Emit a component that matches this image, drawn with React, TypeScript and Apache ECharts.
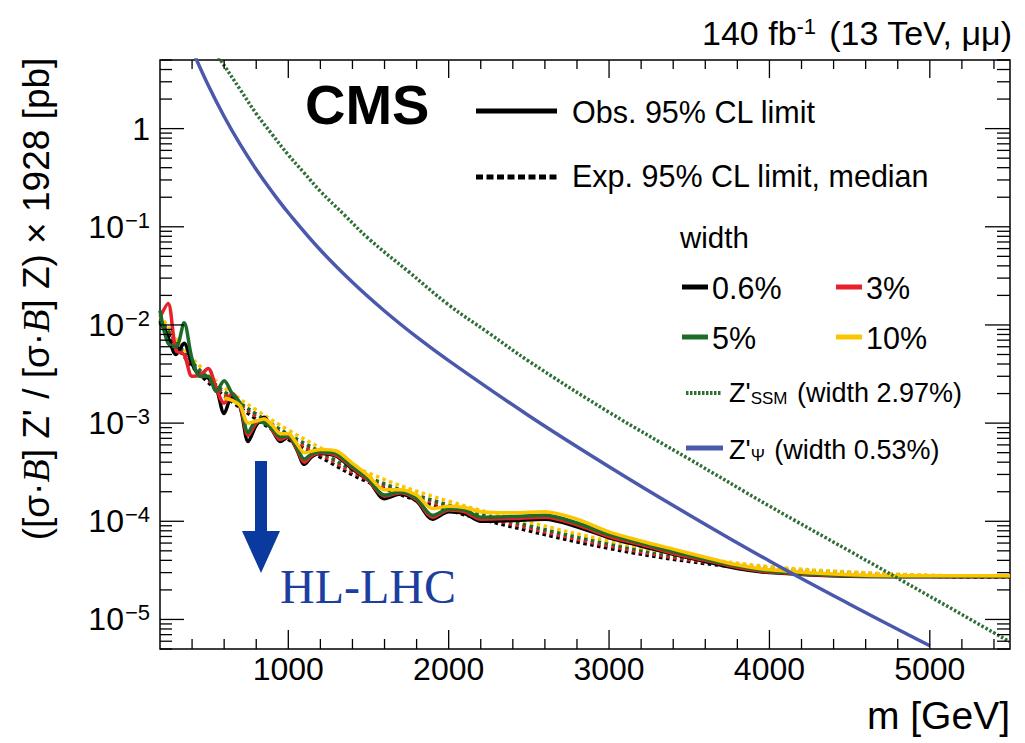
import React, { useEffect, useRef } from "react";
import * as echarts from "echarts";

const X_MIN = 200;
const X_MAX = 5500;
const Y_MIN = 5e-6;
const Y_MAX = 5;

const xMajorTicks = [1000, 2000, 3000, 4000, 5000];

const obsMass = [200, 250, 300, 350, 400, 450, 500, 550, 600, 650, 700, 750, 800, 850, 900, 950, 1000, 1050, 1100, 1150, 1200,
  1300, 1400, 1500, 1600, 1700, 1800, 1900, 2000, 2100, 2200,
  2400, 2600, 2800, 3000, 3200, 3400, 3600, 3800, 4000,
  4500, 5000, 5500];

const obsW06 = [1.1e-2, 7.5e-3, 5.0e-3, 6.5e-3, 4.0e-3, 3.0e-3, 2.9e-3, 2.3e-3, 1.25e-3, 1.9e-3, 1.45e-3, 6.5e-4, 9.5e-4, 1.15e-3, 8.5e-4, 6.5e-4, 7.2e-4, 5.5e-4, 3.8e-4, 4.6e-4, 4.9e-4,
  4.6e-4, 3.4e-4, 2.6e-4, 1.7e-4, 1.9e-4, 1.6e-4, 1.05e-4, 1.25e-4, 1.2e-4, 1.0e-4,
  1.02e-4, 1.05e-4, 8.8e-5, 6.8e-5, 5.6e-5, 4.6e-5, 3.9e-5, 3.3e-5, 3.0e-5,
  2.75e-5, 2.72e-5, 2.72e-5];

const obsW3 = [1.2e-2, 1.65e-2, 5.5e-3, 5.0e-3, 3.0e-3, 3.1e-3, 3.6e-3, 2.3e-3, 1.6e-3, 2.0e-3, 1.5e-3, 7.5e-4, 1.0e-3, 1.1e-3, 8.5e-4, 6.8e-4, 7.3e-4, 5.6e-4, 4.0e-4, 4.7e-4, 5.0e-4,
  4.7e-4, 3.5e-4, 2.6e-4, 1.8e-4, 1.95e-4, 1.65e-4, 1.1e-4, 1.3e-4, 1.25e-4, 1.05e-4,
  1.07e-4, 1.1e-4, 9.2e-5, 7.0e-5, 5.8e-5, 4.7e-5, 4.0e-5, 3.4e-5, 3.05e-5,
  2.78e-5, 2.74e-5, 2.74e-5];

const obsW5 = [1.4e-2, 6.5e-3, 6.0e-3, 1.05e-2, 4.5e-3, 3.0e-3, 3.0e-3, 2.1e-3, 2.7e-3, 2.0e-3, 1.6e-3, 8.0e-4, 1.05e-3, 1.0e-3, 8.8e-4, 7.2e-4, 7.5e-4, 5.8e-4, 4.3e-4, 4.9e-4, 5.1e-4,
  4.9e-4, 3.6e-4, 2.7e-4, 1.85e-4, 2.0e-4, 1.7e-4, 1.15e-4, 1.33e-4, 1.3e-4, 1.1e-4,
  1.12e-4, 1.15e-4, 9.6e-5, 7.3e-5, 6.0e-5, 4.9e-5, 4.1e-5, 3.5e-5, 3.1e-5,
  2.8e-5, 2.75e-5, 2.75e-5];

const obsW10 = [null, null, null, null, null, null, null, null, 1.8e-3, 1.7e-3, 1.5e-3, 1.0e-3, 1.05e-3, 1.1e-3, 9.5e-4, 7.8e-4, 7.8e-4, 6.3e-4, 5.0e-4, 5.2e-4, 5.4e-4,
  5.2e-4, 3.9e-4, 2.9e-4, 2.1e-4, 2.1e-4, 1.85e-4, 1.35e-4, 1.42e-4, 1.38e-4, 1.25e-4,
  1.22e-4, 1.25e-4, 1.05e-4, 7.8e-5, 6.3e-5, 5.2e-5, 4.3e-5, 3.6e-5, 3.2e-5,
  2.85e-5, 2.78e-5, 2.78e-5];

const expMass = [200, 300, 400, 500, 600, 800, 1000, 1200, 1500, 2000, 2500, 3000, 3500, 4000, 4500, 5000, 5500];
const expW06 = [1.05e-2, 6.2e-3, 3.8e-3, 2.6e-3, 1.9e-3, 1.1e-3, 6.8e-4, 4.5e-4, 2.5e-4, 1.3e-4, 8.0e-5, 5.3e-5, 3.9e-5, 3.2e-5, 2.9e-5, 2.75e-5, 2.7e-5];
const expW3 = [1.1e-2, 6.5e-3, 4.0e-3, 2.75e-3, 2.0e-3, 1.17e-3, 7.2e-4, 4.8e-4, 2.65e-4, 1.38e-4, 8.5e-5, 5.6e-5, 4.05e-5, 3.3e-5, 2.95e-5, 2.77e-5, 2.72e-5];
const expW5 = [1.15e-2, 6.8e-3, 4.2e-3, 2.9e-3, 2.1e-3, 1.24e-3, 7.7e-4, 5.1e-4, 2.8e-4, 1.46e-4, 9.0e-5, 5.9e-5, 4.2e-5, 3.35e-5, 3.0e-5, 2.79e-5, 2.74e-5];
const expW10 = [1.25e-2, 7.4e-3, 4.6e-3, 3.2e-3, 2.3e-3, 1.36e-3, 8.5e-4, 5.6e-4, 3.1e-4, 1.6e-4, 9.8e-5, 6.3e-5, 4.4e-5, 3.45e-5, 3.05e-5, 2.82e-5, 2.76e-5];

const ssmMass = [500, 600, 700, 800, 900, 1000, 1100, 1200, 1350, 1500, 1750, 2000, 2250, 2500, 3000, 3500, 4000, 4500, 5000, 5500];
const ssmXsec = [7.66, 4.4, 2.5, 1.42, 0.87, 0.54, 0.352, 0.23, 0.132, 0.0759, 0.0349, 0.016, 8.27e-3, 4.27e-3, 1.29e-3, 4.3e-4, 1.43e-4, 4.97e-5, 1.72e-5, 5.9e-6];

const psiMass = [400, 500, 600, 700, 800, 900, 1000, 1200, 1400, 1600, 1800, 2000, 2500, 3000, 3500, 4000, 4500, 5000];
const psiXsec = [6.37, 2.78, 1.33, 0.69, 0.384, 0.226, 0.139, 0.058, 0.0272, 0.01387, 7.55e-3, 4.33e-3, 1.19e-3, 3.6e-4, 1.16e-4, 3.94e-5, 1.43e-5, 5.4e-6];

const C_BLACK = "#000000";
const C_RED = "#e8202a";
const C_GREEN = "#1d6b2a";
const C_YELLOW = "#fcc500";
const C_SSM = "#2f6f36";
const C_PSI = "#4a59ab";
const C_HL = "#0b3a9e";

const FONT = "'Liberation Sans', Arial, Helvetica, sans-serif";

function toPairs(xs: number[], ys: (number | null)[]) {
  return xs.map((x, i) => [x, ys[i] == null ? "-" : ys[i]]);
}

function lineSeries(name: string, xs: number[], ys: (number | null)[], color: string, width: number, type: any, smooth: number, z: number) {
  return {
    type: "line",
    name,
    data: toPairs(xs, ys),
    showSymbol: false,
    symbol: "none",
    smooth,
    connectNulls: false,
    silent: true,
    z,
    lineStyle: { color, width, type, cap: "butt", join: "round" },
  };
}

export default function App() {
  const ref = useRef<HTMLDivElement>(null);

  useEffect(() => {
    if (!ref.current) return;
    const chart = echarts.init(ref.current, undefined, { renderer: "svg" });

    const xMinorTicks: number[] = [];
    for (let m = 400; m < X_MAX; m += 200) if (m % 1000 !== 0) xMinorTicks.push(m);
    const yMajor: number[] = [];
    const yMinor: number[] = [];
    for (let e = -6; e <= 0; e++) {
      for (let k = 1; k <= 9; k++) {
        const v = k * Math.pow(10, e);
        if (v < Y_MIN * 0.999 || v > Y_MAX * 1.001) continue;
        if (k === 1) yMajor.push(v);
        else yMinor.push(v);
      }
    }
    const xTickData = [...xMajorTicks.map((m) => [m, Y_MIN, 1]), ...xMinorTicks.map((m) => [m, Y_MIN, 0])];
    const yTickData = [...yMajor.map((v) => [X_MIN, v, 1]), ...yMinor.map((v) => [X_MIN, v, 0])];

    const tickStyle = { stroke: "#000", lineWidth: 1.3 };

    const option: any = {
      animation: false,
      backgroundColor: "#ffffff",
      grid: {
        left: 160,
        top: 60,
        width: 850,
        height: 589,
        show: true,
        borderColor: "#000",
        borderWidth: 1.5,
        backgroundColor: "transparent",
      },
      xAxis: {
        type: "value",
        min: X_MIN,
        max: X_MAX,
        splitNumber: 5,
        axisLine: { show: false },
        axisTick: { show: false },
        splitLine: { show: false },
        axisLabel: {
          formatter: (v: number) => (xMajorTicks.indexOf(v) >= 0 ? String(v) : ""),
          fontSize: 32,
          fontFamily: FONT,
          color: "#000",
          margin: 4,
          showMinLabel: true,
          showMaxLabel: true,
        },
      },
      yAxis: {
        type: "log",
        logBase: 10,
        min: Y_MIN,
        max: Y_MAX,
        axisLine: { show: false },
        axisTick: { show: false },
        splitLine: { show: false },
        axisLabel: {
          formatter: (v: number) => {
            const e = Math.log10(v);
            const r = Math.round(e);
            if (Math.abs(e - r) > 1e-6) return "";
            if (r === 0) return "1";
            return "10{sup|\u2212" + -r + "}";
          },
          fontSize: 32,
          fontFamily: FONT,
          color: "#000",
          margin: 10,
          rich: {
            sup: { fontSize: 22, fontFamily: FONT, color: "#000", verticalAlign: "top", padding: [0, 0, 13, 1] },
          },
        },
      },
      series: [
        lineSeries("exp06", expMass, expW06, C_BLACK, 3.5, [3.5, 3.5], 0.4, 2),
        lineSeries("exp3", expMass, expW3, C_RED, 3.5, [3.5, 3.5], 0.4, 2),
        lineSeries("exp5", expMass, expW5, C_GREEN, 3.5, [3.5, 3.5], 0.4, 2),
        lineSeries("exp10", expMass, expW10, C_YELLOW, 3.5, [3.5, 3.5], 0.4, 2),
        lineSeries("obs06", obsMass, obsW06, C_BLACK, 3.5, "solid", 0.3, 3),
        lineSeries("obs3", obsMass, obsW3, C_RED, 3.5, "solid", 0.3, 3),
        lineSeries("obs5", obsMass, obsW5, C_GREEN, 3.5, "solid", 0.3, 3),
        lineSeries("obs10", obsMass, obsW10, C_YELLOW, 3.5, "solid", 0.3, 3),
        lineSeries("ssm", ssmMass, ssmXsec, C_SSM, 3.5, [2.5, 2], 0.4, 4),
        lineSeries("psi", psiMass, psiXsec, C_PSI, 3.5, "solid", 0.4, 4),
        {
          type: "custom",
          name: "xticks",
          silent: true,
          clip: false,
          z: 10,
          data: xTickData,
          encode: { x: 0, y: 1 },
          renderItem: (_p: any, api: any) => {
            const m = api.value(0);
            const major = api.value(2) === 1;
            const b = api.coord([m, Y_MIN]);
            const t = api.coord([m, Y_MAX]);
            const lb = major ? 19 : 10;
            const lt = major ? 18 : 9;
            return {
              type: "group",
              children: [
                { type: "line", shape: { x1: b[0], y1: b[1], x2: b[0], y2: b[1] - lb }, style: tickStyle },
                { type: "line", shape: { x1: t[0], y1: t[1], x2: t[0], y2: t[1] + lt }, style: tickStyle },
              ],
            };
          },
        },
        {
          type: "custom",
          name: "yticks",
          silent: true,
          clip: false,
          z: 10,
          data: yTickData,
          encode: { x: 0, y: 1 },
          renderItem: (_p: any, api: any) => {
            const v = api.value(1);
            const major = api.value(2) === 1;
            const l = api.coord([X_MIN, v]);
            const r = api.coord([X_MAX, v]);
            const ll = major ? 24 : 12;
            const lr = major ? 25 : 13;
            return {
              type: "group",
              children: [
                { type: "line", shape: { x1: l[0], y1: l[1], x2: l[0] + ll, y2: l[1] }, style: tickStyle },
                { type: "line", shape: { x1: r[0], y1: r[1], x2: r[0] - lr, y2: r[1] }, style: tickStyle },
              ],
            };
          },
        },
      ],
      graphic: [
        {
          type: "text",
          x: 1012,
          y: 33,
          style: {
            text: "140 fb{sup|-1} (13 TeV, \u03bc\u03bc)",
            align: "right",
            verticalAlign: "middle",
            fontSize: 34,
            fontFamily: FONT,
            fill: "#000",
            rich: { sup: { fontSize: 22, fontFamily: FONT, fill: "#000", verticalAlign: "top", padding: [0, 3, 14, 0] } },
          },
        },
        {
          type: "text",
          x: 305,
          y: 104,
          style: { text: "CMS", align: "left", verticalAlign: "middle", fontSize: 56, fontWeight: "bold", fontFamily: FONT, fill: "#000" },
        },
        { type: "line", shape: { x1: 476, y1: 111, x2: 557, y2: 111 }, style: { stroke: "#000", lineWidth: 5 } },
        {
          type: "text",
          x: 572,
          y: 112,
          style: { text: "Obs. 95% CL limit", align: "left", verticalAlign: "middle", fontSize: 30.5, fontFamily: FONT, fill: "#000" },
        },
        { type: "line", shape: { x1: 476, y1: 177, x2: 557, y2: 177 }, style: { stroke: "#000", lineWidth: 5, lineDash: [7, 3.5] } },
        {
          type: "text",
          x: 572,
          y: 176,
          style: { text: "Exp. 95% CL limit, median", align: "left", verticalAlign: "middle", fontSize: 30.5, fontFamily: FONT, fill: "#000" },
        },
        {
          type: "text",
          x: 680,
          y: 237,
          style: { text: "width", align: "left", verticalAlign: "middle", fontSize: 29.5, fontFamily: FONT, fill: "#000" },
        },
        { type: "line", shape: { x1: 682, y1: 287, x2: 708, y2: 287 }, style: { stroke: C_BLACK, lineWidth: 5 } },
        { type: "text", x: 712, y: 288, style: { text: "0.6%", align: "left", verticalAlign: "middle", fontSize: 30.5, fontFamily: FONT, fill: "#000" } },
        { type: "line", shape: { x1: 836, y1: 287, x2: 862, y2: 287 }, style: { stroke: C_RED, lineWidth: 5 } },
        { type: "text", x: 866, y: 288, style: { text: "3%", align: "left", verticalAlign: "middle", fontSize: 30.5, fontFamily: FONT, fill: "#000" } },
        { type: "line", shape: { x1: 682, y1: 337, x2: 708, y2: 337 }, style: { stroke: C_GREEN, lineWidth: 5 } },
        { type: "text", x: 712, y: 338, style: { text: "5%", align: "left", verticalAlign: "middle", fontSize: 30.5, fontFamily: FONT, fill: "#000" } },
        { type: "line", shape: { x1: 836, y1: 337, x2: 862, y2: 337 }, style: { stroke: C_YELLOW, lineWidth: 5 } },
        { type: "text", x: 866, y: 338, style: { text: "10%", align: "left", verticalAlign: "middle", fontSize: 30.5, fontFamily: FONT, fill: "#000" } },
        { type: "line", shape: { x1: 686, y1: 393, x2: 721, y2: 393 }, style: { stroke: C_SSM, lineWidth: 4, lineDash: [2.5, 1.5] } },
        {
          type: "text",
          x: 729,
          y: 393,
          style: {
            text: "Z'{sub|SSM} (width 2.97%)",
            align: "left",
            verticalAlign: "middle",
            fontSize: 27,
            fontFamily: FONT,
            fill: "#000",
            rich: { sub: { fontSize: 17, fontFamily: FONT, fill: "#000", verticalAlign: "bottom", padding: [10, 2, 0, 0] } },
          },
        },
        { type: "line", shape: { x1: 686, y1: 448, x2: 723, y2: 448 }, style: { stroke: C_PSI, lineWidth: 5 } },
        {
          type: "text",
          x: 729,
          y: 450,
          style: {
            text: "Z'{sub|\u03a8} (width 0.53%)",
            align: "left",
            verticalAlign: "middle",
            fontSize: 27,
            fontFamily: FONT,
            fill: "#000",
            rich: { sub: { fontSize: 17, fontFamily: FONT, fill: "#000", verticalAlign: "bottom", padding: [10, 2, 0, 0] } },
          },
        },
        {
          type: "text",
          x: 36,
          y: 299,
          rotation: Math.PI / 2,
          style: {
            text: "([\u03c3\u00b7{b|B}] Z' / [\u03c3\u00b7{b|B}] Z) \u00d7 1928 [pb]",
            align: "center",
            verticalAlign: "middle",
            fontSize: 37,
            fontFamily: FONT,
            fill: "#000",
            rich: { b: { fontSize: 38, fontStyle: "italic", fontFamily: "'Liberation Serif', serif", fill: "#000" } },
          },
        },
        {
          type: "text",
          x: 1010,
          y: 715,
          style: { text: "m [GeV]", align: "right", verticalAlign: "middle", fontSize: 39, fontFamily: FONT, fill: "#000" },
        },
        {
          type: "polygon",
          shape: { points: [[255, 461], [267, 461], [267, 531], [280, 531], [261, 573], [242, 531], [255, 531]] },
          style: { fill: C_HL },
          z: 20,
        },
        {
          type: "text",
          x: 280,
          y: 586,
          style: { text: "HL-LHC", align: "left", verticalAlign: "middle", fontSize: 48, fontFamily: "'Liberation Serif', 'Times New Roman', serif", fill: "#1c3f9f" },
          z: 20,
        },
      ],
    };

    chart.setOption(option);
    return () => chart.dispose();
  }, []);

  return <div ref={ref} style={{ position: "fixed", left: 0, top: 0, width: 1025, height: 743, background: "#fff" }} />;
}
